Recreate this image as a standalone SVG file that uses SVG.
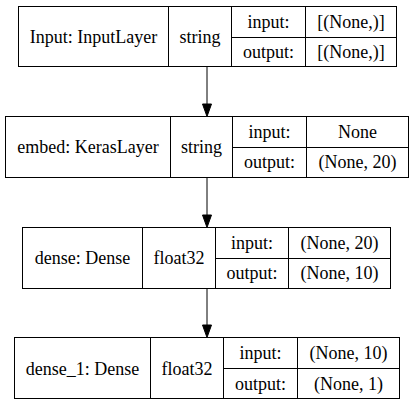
<svg xmlns="http://www.w3.org/2000/svg" width="413" height="405" viewBox="0 0 413 405">
<style>
.box{fill:none;stroke:#000;stroke-width:1}
.ln{stroke:#000;stroke-width:1;fill:none}
text{font-family:"Liberation Serif","Times New Roman",serif;font-size:18px;fill:#000;text-anchor:middle}
.edge{stroke:#000;stroke-width:1;fill:none}
.head{fill:#000;stroke:#000;stroke-width:1}
</style>
<rect width="413" height="405" fill="#fff"/>
<g id="connectors">
<line class="edge" x1="207" y1="66.5" x2="207" y2="104"/>
<polygon class="head" points="202.5,104 211.5,104 207,116.5"/>
<line class="edge" x1="207" y1="177.5" x2="207" y2="215"/>
<polygon class="head" points="202.5,215 211.5,215 207,227.5"/>
<line class="edge" x1="207" y1="288.5" x2="207" y2="325"/>
<polygon class="head" points="202.5,325 211.5,325 207,337.5"/>
</g>
<g id="node-input">
<rect class="box" x="18.5" y="6.5" width="378" height="60"/>
<line class="ln" x1="168.5" y1="6.5" x2="168.5" y2="66.5"/>
<line class="ln" x1="231.5" y1="6.5" x2="231.5" y2="66.5"/>
<line class="ln" x1="305.5" y1="6.5" x2="305.5" y2="66.5"/>
<line class="ln" x1="231.5" y1="37.5" x2="396.5" y2="37.5"/>
<text x="93.5" y="42.5">Input: InputLayer</text>
<text x="200" y="42.5">string</text>
<text x="268.5" y="27.5">input:</text>
<text x="351" y="27.5">[(None,)]</text>
<text x="268.5" y="58">output:</text>
<text x="351" y="58">[(None,)]</text>
</g>
<g id="node-embed">
<rect class="box" x="5.5" y="116.5" width="403" height="61"/>
<line class="ln" x1="170.5" y1="116.5" x2="170.5" y2="177.5"/>
<line class="ln" x1="232.5" y1="116.5" x2="232.5" y2="177.5"/>
<line class="ln" x1="306.5" y1="116.5" x2="306.5" y2="177.5"/>
<line class="ln" x1="232.5" y1="147.5" x2="408.5" y2="147.5"/>
<text x="88" y="153">embed: KerasLayer</text>
<text x="201.5" y="153">string</text>
<text x="269.5" y="137.5">input:</text>
<text x="357.5" y="137.5">None</text>
<text x="269.5" y="168">output:</text>
<text x="357.5" y="168">(None, 20)</text>
</g>
<g id="node-dense">
<rect class="box" x="22.5" y="227.5" width="368" height="61"/>
<line class="ln" x1="142.5" y1="227.5" x2="142.5" y2="288.5"/>
<line class="ln" x1="215.5" y1="227.5" x2="215.5" y2="288.5"/>
<line class="ln" x1="288.5" y1="227.5" x2="288.5" y2="288.5"/>
<line class="ln" x1="215.5" y1="258.5" x2="390.5" y2="258.5"/>
<text x="82.5" y="264">dense: Dense</text>
<text x="179" y="264">float32</text>
<text x="252" y="248.5">input:</text>
<text x="339.5" y="248.5">(None, 20)</text>
<text x="252" y="279">output:</text>
<text x="339.5" y="279">(None, 10)</text>
</g>
<g id="node-dense_1">
<rect class="box" x="14.5" y="337.5" width="385" height="61"/>
<line class="ln" x1="150.5" y1="337.5" x2="150.5" y2="398.5"/>
<line class="ln" x1="223.5" y1="337.5" x2="223.5" y2="398.5"/>
<line class="ln" x1="297.5" y1="337.5" x2="297.5" y2="398.5"/>
<line class="ln" x1="223.5" y1="368.5" x2="399.5" y2="368.5"/>
<text x="82.5" y="374.5">dense_1: Dense</text>
<text x="187" y="374.5">float32</text>
<text x="260.5" y="359">input:</text>
<text x="348.5" y="359">(None, 10)</text>
<text x="260.5" y="389.5">output:</text>
<text x="348.5" y="389.5">(None, 1)</text>
</g>
</svg>
